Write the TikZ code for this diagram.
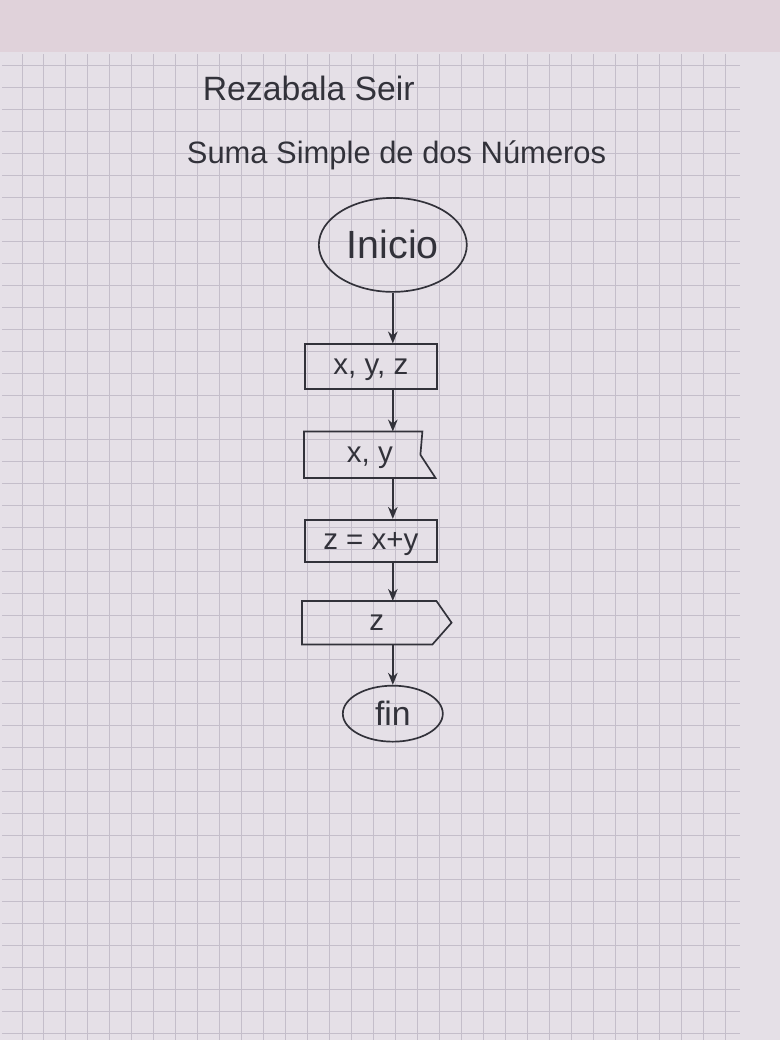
\documentclass[tikz,border=0pt]{standalone}
\usepackage{tikz}
\usetikzlibrary{shapes.geometric,arrows.meta,positioning,calc}
\usepackage{fontspec}
\setmainfont{Liberation Sans}
\definecolor{paper}{RGB}{229,224,231}
\definecolor{paperedge}{RGB}{224,210,218}
\definecolor{gridline}{RGB}{196,190,202}
\definecolor{pen}{RGB}{50,50,58}

\begin{document}
\begin{tikzpicture}[x=0.025cm, y=-0.025cm,
  term/.style={ellipse, draw=pen, line width=1.2pt, inner sep=0pt, font=\fontsize{28}{30}\selectfont, text=pen},
  procbox/.style={rectangle, draw=pen, line width=1.2pt, inner sep=0pt, font=\fontsize{21}{24}\selectfont, text=pen, text depth=0pt},
  iobox/.style={rectangle, inner sep=0pt, font=\fontsize{21}{24}\selectfont, text=pen, text depth=0pt},
  arr/.style={-{Stealth[length=3mm,width=2.4mm]}, line width=1.2pt, pen}
]
  % paper and grid
  \fill[paperedge] (0,0) rectangle (780,1040);
  \fill[paper] (0,52) rectangle (780,1040);
  \draw[gridline, line width=0.7pt, step=0.55cm] (2,54) grid (740,1040);
  \useasboundingbox (0,0) rectangle (780,1040);

  % title
  \node[font=\fontsize{24}{26}\selectfont, text=pen, anchor=west] (autor) at (198,88) {Rezabala Seir};
  \node[font=\fontsize{22}{24}\selectfont, text=pen, anchor=west] (titulo) at (182,155) {Suma Simple de dos Números};

  % flowchart
  \node[term, minimum width=3.7cm, minimum height=2.35cm] (inicio) at (393,245) {Inicio};
  \node[procbox, minimum width=3.3cm, minimum height=1.125cm] (decl) at (371,367) {x, y, z};
  \node[iobox, minimum width=3.275cm, minimum height=1.15cm] (leer) at (370,455) {x, y};
  \node[procbox, minimum width=3.3cm, minimum height=1.05cm] (calc) at (371,541) {z = x+y};
  \node[iobox, minimum width=3.725cm, minimum height=1.075cm] (escr) at (377,623) {z};
  \node[term, minimum width=2.5cm, minimum height=1.4cm, font=\fontsize{24}{26}\selectfont] (fin) at (393,714) {fin};

  % input and output outlines
  \draw[pen, line width=1.2pt] (leer.north west) -- ([xshift=-0.33cm]leer.north east)
    -- ([xshift=-0.38cm]leer.east) -- (leer.south east) -- (leer.south west) -- cycle;
  \draw[pen, line width=1.2pt] (escr.north west) -- ([xshift=-0.38cm]escr.north east)
    -- (escr.east) -- ([xshift=-0.48cm]escr.south east) -- (escr.south west) -- cycle;

  % connectors
  \draw[arr] (inicio.south) -- (inicio.south |- decl.north);
  \draw[arr] (inicio.south |- decl.south) -- (inicio.south |- leer.north);
  \draw[arr] (inicio.south |- leer.south) -- (inicio.south |- calc.north);
  \draw[arr] (inicio.south |- calc.south) -- (inicio.south |- escr.north);
  \draw[arr] (inicio.south |- escr.south) -- (fin.north);
\end{tikzpicture}
\end{document}
